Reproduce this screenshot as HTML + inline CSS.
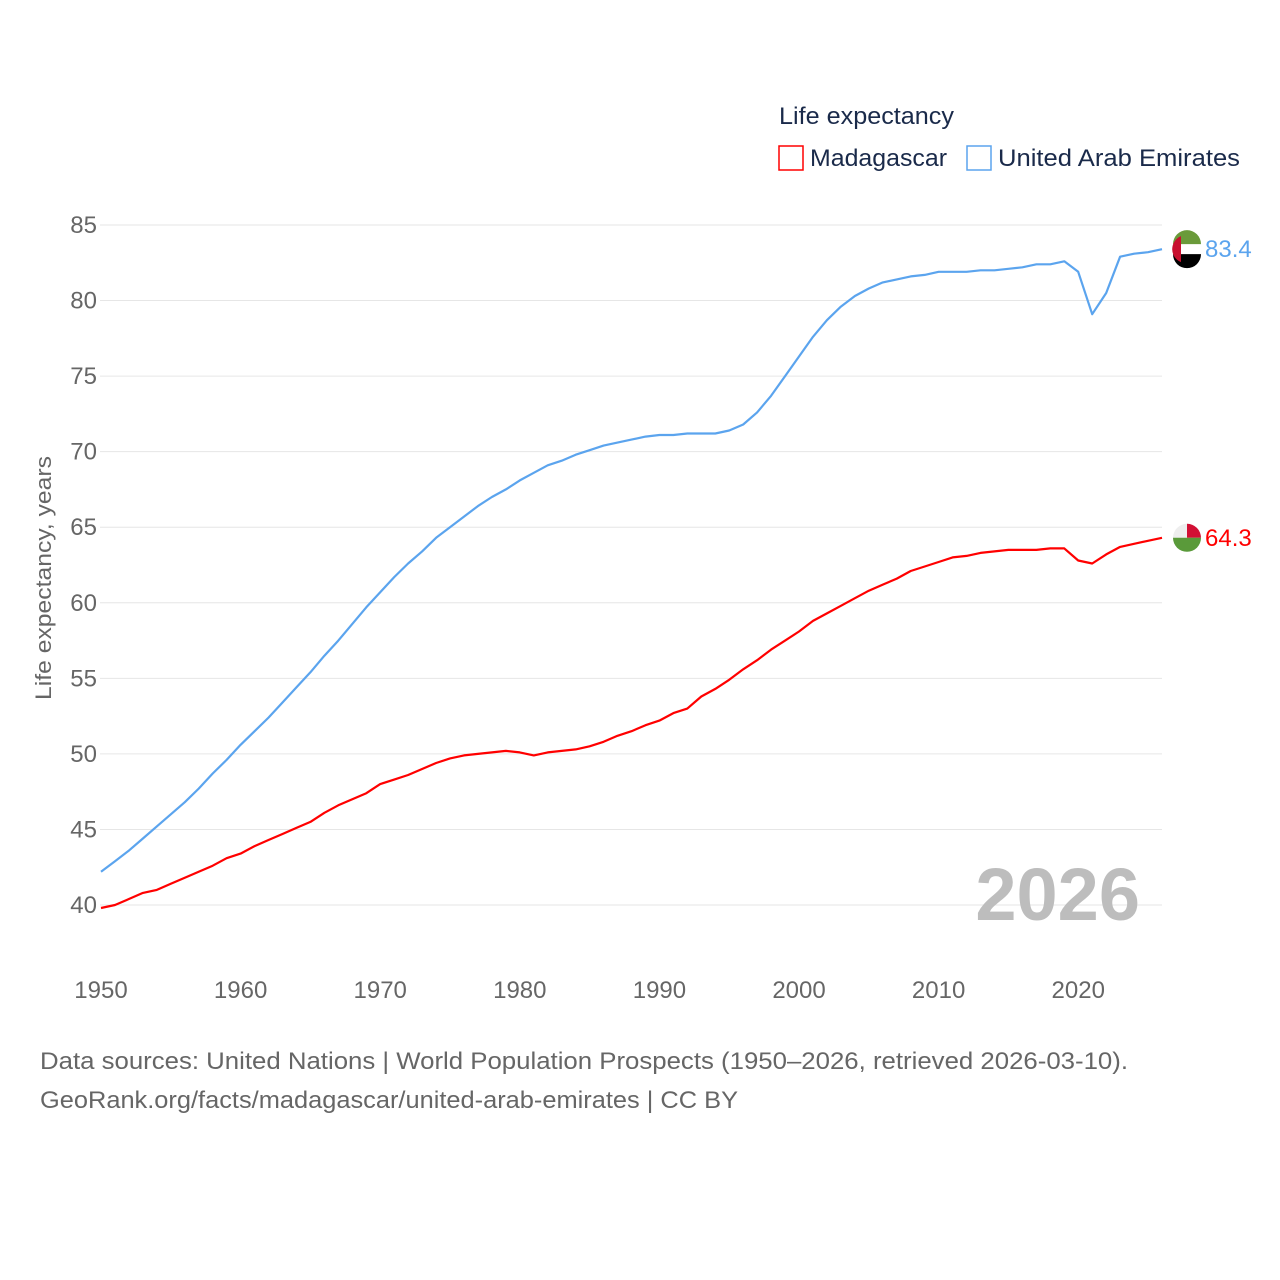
<!DOCTYPE html>
<html><head><meta charset="utf-8"><style>
body{margin:0;background:#fff;}
svg{display:block;font-family:"Liberation Sans",sans-serif;}
</style></head><body>
<svg id="chart" width="1280" height="1280" viewBox="0 0 1280 1280">
<rect width="1280" height="1280" fill="#fff"/>
<g id="grid"></g>
<g id="yticks"></g>
<g id="xticks"></g>
<text transform="translate(51,578) rotate(-90)" text-anchor="middle" font-size="22" fill="#666" textLength="244" lengthAdjust="spacingAndGlyphs">Life expectancy, years</text>
<text x="1140" y="920" text-anchor="end" font-size="74" font-weight="bold" fill="#bdbdbd">2026</text>
<g id="series"></g>
<text x="779" y="124" font-size="24" fill="#1a2a4a" textLength="175" lengthAdjust="spacingAndGlyphs">Life expectancy</text>
<rect x="779" y="146" width="24" height="24" fill="none" stroke="#ff0000" stroke-width="1.5"/>
<text x="810" y="166" font-size="24" fill="#1a2a4a" textLength="137" lengthAdjust="spacingAndGlyphs">Madagascar</text>
<rect x="967" y="146" width="24" height="24" fill="none" stroke="#5ba4ee" stroke-width="1.5"/>
<text x="998" y="166" font-size="24" fill="#1a2a4a" textLength="242" lengthAdjust="spacingAndGlyphs">United Arab Emirates</text>
<text x="40" y="1069" font-size="24" fill="#666" textLength="1088" lengthAdjust="spacingAndGlyphs">Data sources: United Nations | World Population Prospects (1950–2026, retrieved 2026-03-10).</text>
<text x="40" y="1108" font-size="24" fill="#666" textLength="698" lengthAdjust="spacingAndGlyphs">GeoRank.org/facts/madagascar/united-arab-emirates | CC BY</text>
</svg>
<script>
const years=[];for(let y=1950;y<=2026;y++)years.push(y);
const uae=[42.2,42.9,43.6,44.4,45.2,46.0,46.8,47.7,48.7,49.6,50.6,51.5,52.4,53.4,54.4,55.4,56.5,57.5,58.6,59.7,60.7,61.7,62.6,63.4,64.3,65.0,65.7,66.4,67.0,67.5,68.1,68.6,69.1,69.4,69.8,70.1,70.4,70.6,70.8,71.0,71.1,71.1,71.2,71.2,71.2,71.4,71.8,72.6,73.7,75.0,76.3,77.6,78.7,79.6,80.3,80.8,81.2,81.4,81.6,81.7,81.9,81.9,81.9,82.0,82.0,82.1,82.2,82.4,82.4,82.6,81.9,79.1,80.5,82.9,83.1,83.2,83.4];
const mdg=[39.8,40.0,40.4,40.8,41.0,41.4,41.8,42.2,42.6,43.1,43.4,43.9,44.3,44.7,45.1,45.5,46.1,46.6,47.0,47.4,48.0,48.3,48.6,49.0,49.4,49.7,49.9,50.0,50.1,50.2,50.1,49.9,50.1,50.2,50.3,50.5,50.8,51.2,51.5,51.9,52.2,52.7,53.0,53.8,54.3,54.9,55.6,56.2,56.9,57.5,58.1,58.8,59.3,59.8,60.3,60.8,61.2,61.6,62.1,62.4,62.7,63.0,63.1,63.3,63.4,63.5,63.5,63.5,63.6,63.6,62.8,62.6,63.2,63.7,63.9,64.1,64.3];
const yTicks=[40,45,50,55,60,65,70,75,80,85];
const xTicks=[1950,1960,1970,1980,1990,2000,2010,2020];
const NS="http://www.w3.org/2000/svg";
const X=y=>101+(y-1950)*(1162-101)/76;
const Y=v=>905-(v-40)*(680/45);
function mk(tag,attrs,parent,txt){const e=document.createElementNS(NS,tag);for(const k in attrs)e.setAttribute(k,attrs[k]);if(txt!==undefined)e.textContent=txt;parent.appendChild(e);return e;}
const grid=document.getElementById('grid'),yt=document.getElementById('yticks'),xt=document.getElementById('xticks'),ser=document.getElementById('series');
yTicks.forEach(v=>{
 const l=mk('line',{x1:100,x2:1162,y1:Y(v),y2:Y(v),stroke:'#e6e6e6','stroke-width':1},grid);
 
 
 const t=mk('text',{x:97,y:Y(v)+8,'text-anchor':'end','font-size':24,fill:'#666'},yt,v);
 
 
});
xTicks.forEach(v=>{
 const t=mk('text',{x:X(v),y:998,'text-anchor':'middle','font-size':24,fill:'#666'},xt,v);
 
 
});
function line(vals,color,name){
 const d=vals.map((v,i)=>(i?'L':'M')+X(years[i]).toFixed(1)+','+Y(v).toFixed(1)).join('');
 const p=mk('path',{d:d,fill:'none',stroke:color,'stroke-width':2.2,'stroke-linejoin':'round'},ser);
 
 
 const last=vals[vals.length-1],cx=X(years[years.length-1])+25,cy=Y(last);
 const g=mk('g',{},ser);
 
 
 return {g,cx,cy,last};
}
const u=line(uae,'#5ba4ee','uae');
mk('circle',{cx:u.cx,cy:u.cy,r:14,fill:'#fff'},u.g);
mk('path',{d:`M${u.cx-14},${u.cy-5}A14,14 0 0 1 ${u.cx+14},${u.cy-5}Z`,fill:'#6a9a3a'},u.g);
mk('path',{d:`M${u.cx-14},${u.cy+5}A14,14 0 0 0 ${u.cx+14},${u.cy+5}Z`,fill:'#000'},u.g);
mk('path',{d:`M${u.cx-6},${u.cy-13}L${u.cx-6},${u.cy+13}A14,14 0 0 1 ${u.cx-6},${u.cy-13}Z`,fill:'#c8102e'},u.g);
let lt=mk('text',{x:u.cx+18,y:u.cy+8,'font-size':24,fill:'#5ba4ee'},ser,u.last.toFixed(1));


const m=line(mdg,'#ff0000','madagascar');
mk('circle',{cx:m.cx,cy:m.cy,r:14,fill:'#eee'},m.g);
mk('path',{d:`M${m.cx},${m.cy-14}A14,14 0 0 1 ${m.cx+14},${m.cy}L${m.cx},${m.cy}Z`,fill:'#d21034'},m.g);
mk('path',{d:`M${m.cx},${m.cy}L${m.cx+14},${m.cy}A14,14 0 0 1 ${m.cx-14},${m.cy}Z`,fill:'#5a9a3a'},m.g);
lt=mk('text',{x:m.cx+18,y:m.cy+8,'font-size':24,fill:'#ff0000'},ser,m.last.toFixed(1));


</script>
</body></html>
